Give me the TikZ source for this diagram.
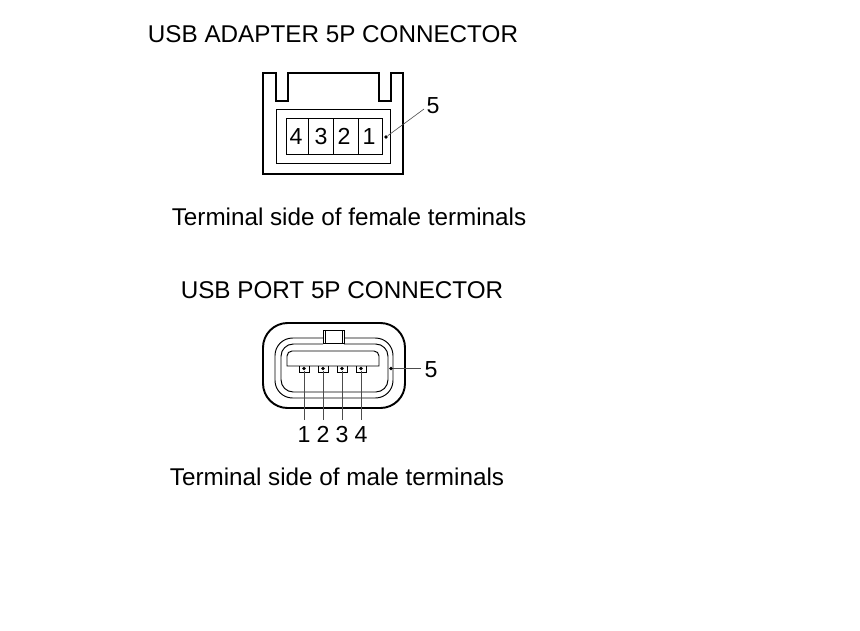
\documentclass[tikz,border=0pt]{standalone}
\usepackage{fontspec}
\setmainfont{Liberation Sans}
\usetikzlibrary{positioning}
\tikzset{
	title/.style={font=\fontsize{13.8}{16}\selectfont,inner sep=0pt},
	num/.style={font=\fontsize{13.2}{16}\selectfont,inner sep=0pt,text height=9.5pt,text depth=0pt},
	body/.style={line width=1.1pt,line join=miter},
	wall/.style={line width=0.55pt},
	lead/.style={line width=0.35pt,black!70},
	pin/.style={circle,fill=black,inner sep=0pt,minimum size=2.2pt}
}
\begin{document}
\begin{tikzpicture}[x=0.02cm,y=-0.02cm]
	\useasboundingbox (0,0) rectangle (860,630);

	%%Titles
	\node[title] (adapter) at (333,34) {USB ADAPTER 5P CONNECTOR};
	\node[title] (female) at (349,217) {Terminal side of female terminals};
	\node[title] (port) at (342,290) {USB PORT 5P CONNECTOR};
	\node[title] (male) at (337,477) {Terminal side of male terminals};

	%%Adapter housing
	\draw[body] (263,73)--(276,73)--(276,101)--(288,101)--(288,73)--(379,73)--(379,101)--(391,101)--(391,73)--(403,73)--(403,174)--(263,174)--cycle;
	\draw[wall] (276,109) rectangle (390,163);
	\draw[wall] (286,118) rectangle (382,154);
	\draw[wall] (308,118)--(308,154);
	\draw[wall] (333,118)--(333,154);
	\draw[wall] (358,118)--(358,154);

	%%Adapter terminals
	\node[num] (a4) at (296,136) {4};
	\node[num] (a3) at (321,136) {3};
	\node[num] (a2) at (344,136) {2};
	\node[num] (a1) at (369,136) {1};
	\node[pin] (apin) at (386,137) {};
	\node[num] (a5) at (433,105) {5};
	\coordinate (aend) at (424,109);
	\draw[lead] (apin)--(aend);

	%%Port housing
	\draw[line width=1.1pt,rounded corners=14pt] (263,323) rectangle (405,408);
	\draw[wall,rounded corners=10pt] (323,338)--(275,338)--(275,398)--(393,398)--(393,338)--(344,338);
	\draw[wall,rounded corners=7pt] (323,344)--(281,344)--(281,392)--(388,392)--(388,344)--(344,344);
	\draw[wall] (323,330) rectangle (344,343);
	\draw[wall] (325,330)--(325,343);
	\draw[wall] (342,330)--(342,343);
	\draw[wall] (287,366)--(287,356) to[out=90,in=180] (292,351)--(374,351) to[out=0,in=90] (379,356)--(379,366)--cycle;

	%%Port terminals
	\foreach \n/\x in {1/304,2/323,3/342,4/361}{
		\draw[wall] (\x-5,366)--(\x-5,372)--(\x+5,372)--(\x+5,366);
		\node[pin] (pin\n) at (\x,368.5) {};
		\node[num] (p\n) at (\x,434) {\n};
		\coordinate (end\n) at (\x,420);
		\draw[lead] (pin\n)--(end\n);
	}
	\node[pin] (ppin) at (391,368.5) {};
	\node[num] (p5) at (431,369) {5};
	\coordinate (pend) at (421,368.5);
	\draw[lead] (ppin)--(pend);
\end{tikzpicture}
\end{document}
